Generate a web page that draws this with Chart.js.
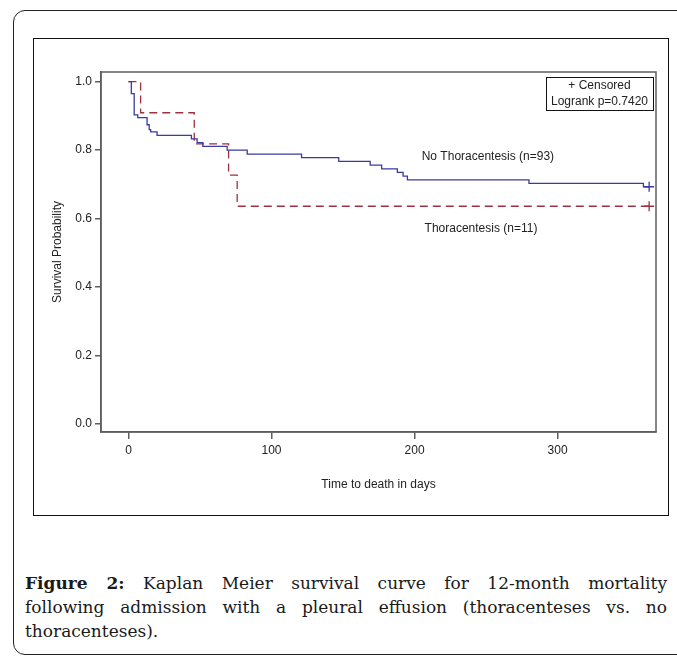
<!DOCTYPE html>
<html>
<head>
<meta charset="utf-8">
<script src="https://cdn.jsdelivr.net/npm/chart.js@4.4.1/dist/chart.umd.min.js"></script>
<style>
  body { margin: 0; background: #fff; width: 677px; height: 660px; overflow: hidden; position: relative; }
  #outer { position: absolute; left: 13px; top: 10px; width: 700px; height: 645px; border: 1px solid #222; border-radius: 12px; box-sizing: border-box; }
  #frame { position: absolute; left: 33px; top: 38px; width: 636px; height: 478px; border: 1px solid #111; box-sizing: border-box; }
  #frame canvas { display: block; }
  #caption { position: absolute; left: 25px; top: 571px; width: 642px; font-family: 'DejaVu Serif', serif; font-size: 17px; line-height: 24px; color: #1a1a1a; }
  #caption .line { text-align: justify; text-align-last: justify; white-space: nowrap; }
  #caption .last { text-align: left; }
  #caption b { font-weight: bold; }
</style>
</head>
<body>
<div id="outer"></div>
<div id="frame"><canvas id="kmChart" width="634" height="476"></canvas></div>
<div id="caption">
  <div class="line"><b>Figure 2:</b> Kaplan Meier survival curve for 12-month mortality</div>
  <div class="line">following admission with a pleural effusion (thoracenteses vs. no</div>
  <div class="last">thoracenteses).</div>
</div>
<script>
// Kaplan Meier data (days, survival probability)
const noThoraTimes = [0, 2, 4, 6.5, 13, 14.5, 15.5, 20, 44, 48, 52, 69, 83, 121, 147, 169, 177, 188, 192, 195, 280, 360];
const noThoraSurv  = [1.0, 0.965, 0.903, 0.895, 0.874, 0.860, 0.853, 0.843, 0.833, 0.822, 0.811, 0.800, 0.788, 0.778, 0.767, 0.756, 0.745, 0.735, 0.724, 0.713, 0.703, 0.693];
const thoraTimes = [0, 8.5, 46, 70, 76];
const thoraSurv  = [1.0, 0.909, 0.818, 0.727, 0.636];

// censored observations (+ marks)
const noThoraCensorTimes = [364];
const noThoraCensorSurv  = [0.693];
const thoraCensorTimes = [364];
const thoraCensorSurv  = [0.636];

const xTicks = [0, 100, 200, 300];
const yTicks = [0.0, 0.2, 0.4, 0.6, 0.8, 1.0];

const labelNoThora = 'No Thoracentesis (n=93)';
const labelThora = 'Thoracentesis (n=11)';
const legendLines = ['+ Censored', 'Logrank p=0.7420'];

const FONT = "'Liberation Sans', Arial, sans-serif";
const BLUE = '#3a3aa2';
const RED = '#9e3042';

function toPoints(xs, ys) {
    return xs.map((x, i) => ({ x: x, y: ys[i] }));
}

// curve lines run to the last censored time
const noThoraLine = toPoints(noThoraTimes.concat(noThoraCensorTimes), noThoraSurv.concat(noThoraCensorSurv));
const thoraLine = toPoints(thoraTimes.concat(thoraCensorTimes), thoraSurv.concat(thoraCensorSurv));

// frame, legend box and curve labels
const annotatePlugin = {
    id: 'annotate',
    beforeDatasetsDraw(chart) {
        const { ctx, chartArea: a } = chart;
        ctx.save();
        ctx.strokeStyle = '#5e5e5e';
        ctx.lineWidth = 1.5;
        ctx.strokeRect(a.left, a.top, a.right - a.left, a.bottom - a.top);
        ctx.restore();
    },
    afterDatasetsDraw(chart) {
        const { ctx, chartArea: a, scales } = chart;
        ctx.save();
        // legend box top right
        const bw = 107, bh = 33;
        const bx = a.right - 3 - bw, by = a.top + 5;
        ctx.fillStyle = '#fff';
        ctx.fillRect(bx, by, bw, bh);
        ctx.strokeStyle = '#111';
        ctx.lineWidth = 1;
        ctx.strokeRect(bx + 0.5, by + 0.5, bw, bh);
        ctx.fillStyle = '#222';
        ctx.font = '12px ' + FONT;
        ctx.textAlign = 'center';
        ctx.textBaseline = 'middle';
        ctx.fillText(legendLines[0], bx + bw / 2, by + 8.5);
        ctx.fillText(legendLines[1], bx + bw / 2, by + 24.5);

        // curve labels
        ctx.textAlign = 'left';
        ctx.fillText(labelNoThora, scales.x.getPixelForValue(205), scales.y.getPixelForValue(0.781));
        ctx.fillText(labelThora, scales.x.getPixelForValue(207), scales.y.getPixelForValue(0.57));
        ctx.restore();
    }
};

new Chart(document.getElementById('kmChart'), {
    type: 'line',
    data: {
        datasets: [
            {
                label: 'No Thoracentesis',
                data: noThoraLine,
                borderColor: BLUE,
                borderWidth: 1.3,
                stepped: true,
                pointRadius: 0,
                fill: false
            },
            {
                label: 'Thoracentesis',
                data: thoraLine,
                borderColor: RED,
                borderWidth: 1.3,
                borderDash: [8, 5],
                stepped: true,
                pointRadius: 0,
                fill: false
            },
            {
                label: 'Censored no thoracentesis',
                data: toPoints(noThoraCensorTimes, noThoraCensorSurv),
                showLine: false,
                pointStyle: 'cross',
                pointRadius: 5,
                borderColor: BLUE,
                borderWidth: 1.3
            },
            {
                label: 'Censored thoracentesis',
                data: toPoints(thoraCensorTimes, thoraCensorSurv),
                showLine: false,
                pointStyle: 'cross',
                pointRadius: 5,
                borderColor: RED,
                borderWidth: 1.3
            }
        ]
    },
    options: {
        responsive: false,
        animation: false,
        devicePixelRatio: 1,
        layout: { padding: { top: 33, right: 12, left: 0, bottom: 0 } },
        plugins: {
            legend: { display: false },
            tooltip: { enabled: false }
        },
        scales: {
            x: {
                type: 'linear',
                min: -19.2,
                max: 368.8,
                afterBuildTicks: s => { s.ticks = xTicks.map(v => ({ value: v })); },
                afterFit: s => { s.height = 83; },
                ticks: { font: { family: FONT, size: 12 }, color: '#222', padding: 4, maxRotation: 0 },
                grid: { drawOnChartArea: false, drawTicks: true, tickLength: 7, color: '#5e5e5e', lineWidth: 1.5 },
                border: { color: '#5e5e5e', width: 1.5 },
                title: { display: true, text: 'Time to death in days', font: { family: FONT, size: 12 }, color: '#222', padding: { top: 0, bottom: 23 } }
            },
            y: {
                min: -0.023,
                max: 1.028,
                afterBuildTicks: s => { s.ticks = yTicks.map(v => ({ value: v })); },
                afterFit: s => { s.width = 67; },
                ticks: { font: { family: FONT, size: 12 }, color: '#222', padding: 3, callback: v => v.toFixed(1) },
                grid: { drawOnChartArea: false, drawTicks: true, tickLength: 6, color: '#5e5e5e', lineWidth: 1.5 },
                border: { color: '#5e5e5e', width: 1.5 },
                title: { display: true, text: 'Survival Probability', font: { family: FONT, size: 12 }, color: '#222', padding: { top: 16, bottom: 0 } }
            }
        }
    },
    plugins: [annotatePlugin]
});
</script>
</body>
</html>
